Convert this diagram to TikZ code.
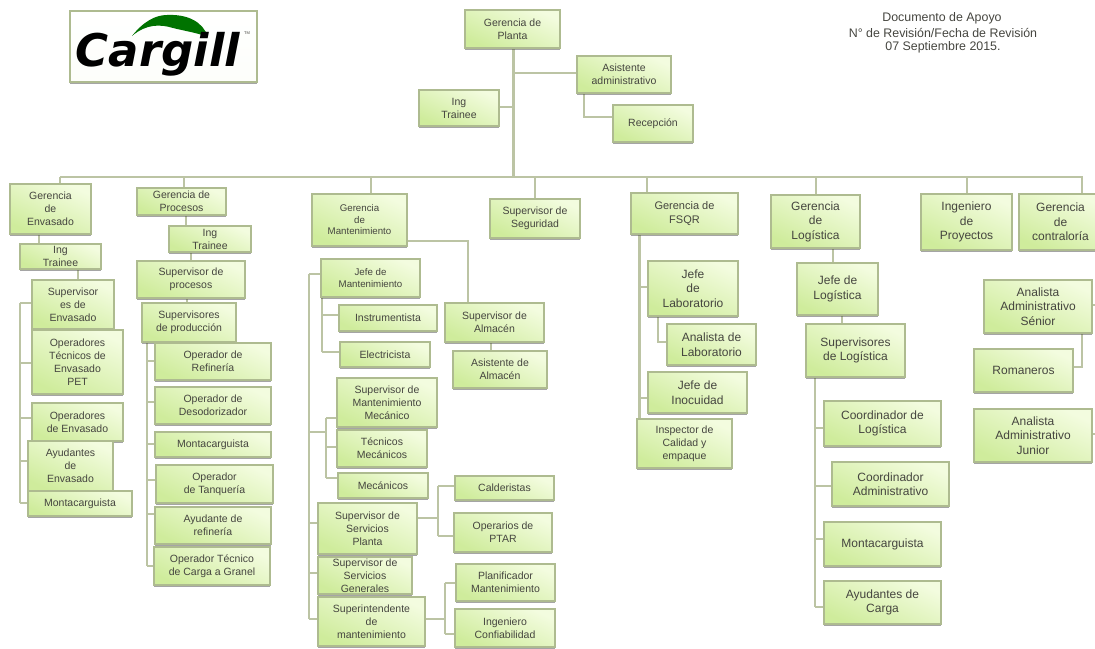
\documentclass[tikz,border=0pt]{standalone}
\usepackage{fontspec}
\setmainfont{Liberation Sans}
\newfontfamily\logofont{DejaVu Sans}
\usetikzlibrary{shadows,backgrounds}
\definecolor{boxedge}{HTML}{AEBB90}
\definecolor{boxlight}{HTML}{F3FCDF}
\definecolor{boxgreen}{HTML}{CFEC9C}
\definecolor{conn}{HTML}{BCC4A4}
\definecolor{txt}{HTML}{45453F}
\tikzset{
  box/.style={draw=boxedge,line width=1.6pt,top color=boxlight,bottom color=boxgreen,shading angle=-25,
    inner sep=0pt,outer sep=0pt,align=center,text=txt,font=\fontsize{10.5}{13}\selectfont,
    general shadow={shadow xshift=0.4pt,shadow yshift=-1.8pt,draw=none,fill=black!70,opacity=.5}},
  small/.style={font=\fontsize{9.7}{11.5}\selectfont},
  big/.style={font=\fontsize{12}{14.5}\selectfont},
  link/.style={draw=conn,line width=2.6pt},
  note/.style={text=txt,font=\fontsize{12.4}{14}\selectfont,inner sep=0pt}
}
% box: [style]{name}{x1}{y1}{x2}{y2}{text}
\newcommand\bb[7][]{\node[box,#1,minimum width={(#5-#3)*1pt},minimum height={(#6-#4)*1pt}] (#2) at ({(#3+#5)/2},{(#4+#6)/2}) {#7};}
% stem between two boxes at a given x
\newcommand\st[3]{\draw[link] (#1.south -| #3,0) -- (#2.north -| #3,0);}
% branch from a rail to a box at a given y
\newcommand\br[3]{\draw[link] (#1 |- 0,#3) -- (#2.west |- 0,#3);}
\begin{document}
\begin{tikzpicture}[x=1pt,y=-1pt]
\useasboundingbox (0,0) rectangle (1095,648);

% logo
\bb[top color=white,bottom color=white!95!boxgreen]{logo}{70}{11}{257}{82}{}
\fill[green!45!black] (132,36) .. controls (143,22) and (155,15) .. (167,15)
  .. controls (188,14) and (203,22) .. (208,37) .. controls (198,33) and (185,31) .. (173,28)
  .. controls (160,24) and (146,24) .. (132,36) -- cycle;
\node[inner sep=0pt,text=black] (cargill) at (158,54) {\fontsize{45}{45}\selectfont\logofont\bfseries\itshape Cargill};
\node[inner sep=0pt,text=txt] (tm) at (247,33) {\fontsize{4}{4}\selectfont TM};

% header note
\node[note] (n1) at (942,18) {Documento de Apoyo};
\node[note] (n2) at (943,32.5) {N° de Revisión/Fecha de Revisión};
\node[note] (n3) at (943,47) {07 Septiembre 2015.};

% top
\bb{gp}{465}{10}{560}{48}{Gerencia de\\Planta}
\bb{asis}{577}{56}{671}{93}{Asistente\\administrativo}
\bb{rec}{613}{105}{693}{142}{Recepción}
\bb{ingt}{419}{90}{499}{126}{Ing\\Trainee}

% envasado
\bb{genv}{10}{184}{91}{234}{Gerencia\\de\\Envasado}
\bb{ite}{20}{244}{101}{269}{Ing\\Trainee}
\bb{senv}{32}{280}{114}{329}{Supervisor\\es de\\Envasado}
\bb{otec}{32}{330}{123}{394}{Operadores\\Técnicos de\\Envasado\\PET}
\bb{oenv}{32}{403}{123}{441}{Operadores\\de Envasado}
\bb{aenv}{28}{441}{113}{491}{Ayudantes\\de\\Envasado}
\bb{menv}{28}{491}{132}{516}{Montacarguista}

% procesos
\bb{gpro}{137}{188}{226}{215}{Gerencia de\\Procesos}
\bb{itp}{169}{226}{251}{252}{Ing\\Trainee}
\bb{spro}{137}{261}{245}{298}{Supervisor de\\procesos}
\bb{sprod}{142}{303}{236}{342}{Supervisores\\de producción}
\bb{oref}{155}{343}{271}{380}{Operador de\\Refinería}
\bb{odes}{155}{387}{271}{424}{Operador de\\Desodorizador}
\bb{mpro}{155}{432}{271}{457}{Montacarguista}
\bb{otan}{156}{465}{273}{503}{Operador\\de Tanquería}
\bb{aref}{155}{507}{271}{544}{Ayudante de\\refinería}
\bb{ogra}{154}{547}{270}{585}{Operador Técnico\\de Carga a Granel}

% mantenimiento
\bb[small]{gman}{312}{194}{407}{246}{Gerencia\\de\\Mantenimiento}
\bb{sseg}{490}{199}{580}{238}{Supervisor de\\Seguridad}
\bb[small]{jman}{321}{259}{420}{297}{Jefe de\\Mantenimiento}
\bb{inst}{339}{305}{437}{331}{Instrumentista}
\bb{elec}{340}{342}{430}{367}{Electricista}
\bb{salm}{445}{303}{544}{342}{Supervisor de\\Almacén}
\bb{aalm}{453}{351}{547}{388}{Asistente de\\Almacén}
\bb{smec}{337}{378}{437}{427}{Supervisor de\\Mantenimiento\\Mecánico}
\bb{tmec}{337}{430}{427}{467}{Técnicos\\Mecánicos}
\bb{mmec}{338}{473}{428}{498}{Mecánicos}
\bb{spla}{318}{503}{417}{554}{Supervisor de\\Servicios\\Planta}
\bb{sgen}{318}{557}{412}{594}{Supervisor de\\Servicios\\Generales}
\bb{sint}{318}{597}{425}{646}{Superintendente\\de\\mantenimiento}
\bb{cald}{455}{476}{554}{500}{Calderistas}
\bb{ptar}{454}{513}{552}{552}{Operarios de\\PTAR}
\bb{plan}{456}{564}{555}{601}{Planificador\\Mantenimiento}
\bb{conf}{455}{609}{555}{647}{Ingeniero\\Confiabilidad}

% fsqr
\bb[font=\fontsize{11}{14}\selectfont]{gfsq}{631}{193}{738}{234}{Gerencia de\\FSQR}
\bb[big]{jlab}{648}{261}{738}{316}{Jefe\\de\\Laboratorio}
\bb[big]{alab}{667}{324}{756}{365}{Analista de\\Laboratorio}
\bb[big]{jino}{648}{372}{747}{413}{Jefe de\\Inocuidad}
\bb{insp}{637}{419}{732}{468}{Inspector de\\Calidad y\\empaque}

% logistica
\bb[big]{glog}{771}{195}{860}{248}{Gerencia\\de\\Logística}
\bb[big]{jlog}{797}{263}{878}{315}{Jefe de\\Logística}
\bb[big]{slog}{806}{324}{905}{377}{Supervisores\\de Logística}
\bb[big]{clog}{824}{401}{941}{446}{Coordinador de\\Logística}
\bb[big]{cadm}{832}{462}{949}{506}{Coordinador\\Administrativo}
\bb[big]{mlog}{824}{522}{941}{566}{Montacarguista}
\bb[big]{alog}{824}{581}{941}{624}{Ayudantes de\\Carga}

% derecha
\bb[big]{ipro}{921}{194}{1012}{250}{Ingeniero\\de\\Proyectos}
\bb[big]{gcon}{1019}{194}{1102}{250}{Gerencia\\de\\contraloría}
\bb[big]{asen}{984}{280}{1092}{333}{Analista\\Administrativo\\Sénior}
\bb[big]{roma}{974}{349}{1073}{392}{Romaneros}
\bb[big]{ajun}{974}{409}{1092}{462}{Analista\\Administrativo\\Junior}

\begin{pgfonlayer}{background}
  \coordinate (bus) at (60,177);
  \coordinate (busend) at (1083,177);
  \coordinate (trunk) at (513,177);
  \coordinate (renv) at (20,303);
  \coordinate (renvb) at (20,503);
  \coordinate (rpro) at (147,342);
  \coordinate (rprob) at (147,566);
  \coordinate (rman) at (309,274);
  \coordinate (rmanb) at (309,619);
  \coordinate (rjef) at (322,297);
  \coordinate (rjefb) at (322,352);
  \coordinate (rmec) at (326,418);
  \coordinate (rmecb) at (326,478);
  \coordinate (rpla) at (438,486);
  \coordinate (rplab) at (438,536);
  \coordinate (rsin) at (445,583);
  \coordinate (rsinb) at (445,634);
  \coordinate (rfsq) at (639,234);
  \coordinate (rfsqb) at (639,419);
  \coordinate (rlog) at (815,377);
  \coordinate (rlogb) at (815,607);
  \coordinate (rlab) at (658,316);
  \coordinate (rrec) at (584,93);
  \coordinate (rrom) at (1082,333);
  \coordinate (ralm) at (468,303);

  % main structure
  \draw[link,line width=3pt] (gp.south -| trunk) -- (trunk);
  \draw[link] (bus) -- (busend);
  \draw[link] (trunk |- 0,73) -- (asis.west |- 0,73);
  \draw[link] (trunk |- 0,107) -- (ingt.east |- 0,107);
  \draw[link] (rrec) -- (rrec |- 0,117) -- (rec.west |- 0,117);
  % drops from the bus
  \foreach \b/\x in {genv/60,gpro/184,gman/371,sseg/535,gfsq/647,glog/816,ipro/967,gcon/1082}
    \draw[link] (\x,177) -- (\b.north -| \x,0);

  % envasado
  \st{genv}{ite}{39}
  \st{ite}{senv}{78}
  \draw[link] (renv) -- (renvb);
  \br{renv}{senv}{303}\br{renv}{otec}{363}\br{renv}{oenv}{418}\br{renv}{aenv}{461}\br{renv}{menv}{503}

  % procesos
  \st{gpro}{itp}{186}
  \st{itp}{spro}{191}
  \st{spro}{sprod}{187}
  \draw[link] (rpro) -- (rprob);
  \br{rpro}{oref}{361}\br{rpro}{odes}{402}\br{rpro}{mpro}{444}\br{rpro}{otan}{480}\br{rpro}{aref}{514}\br{rpro}{ogra}{566}

  % mantenimiento
  \draw[link] (gman.east |- 0,241) -- (ralm |- 0,241) -- (ralm);
  \st{salm}{aalm}{491}
  \draw[link] (rman) -- (rmanb);
  \draw[link] (rman) -- (jman.west |- rman);
  \draw[link] (rjef) -- (rjefb);
  \br{rjef}{inst}{315}\br{rjef}{elec}{352}
  \draw[link] (rman |- 0,432) -- (rmec |- 0,432);
  \draw[link] (rmec) -- (rmecb);
  \br{rmec}{smec}{418}\br{rmec}{tmec}{447}\br{rmec}{mmec}{478}
  \br{rman}{spla}{523}\br{rman}{sgen}{573}\br{rman}{sint}{619}
  \draw[link] (spla.east |- 0,518) -- (rpla |- 0,518);
  \draw[link] (rpla) -- (rplab);
  \br{rpla}{cald}{486}\br{rpla}{ptar}{536}
  \draw[link] (sint.east |- 0,619) -- (rsin |- 0,619);
  \draw[link] (rsin) -- (rsinb);
  \br{rsin}{plan}{583}\br{rsin}{conf}{634}

  % fsqr
  \draw[link,line width=3pt] (rfsq) -- (rfsqb);
  \br{rfsq}{jlab}{287}\br{rfsq}{jino}{398}
  \draw[link] (rlab) -- (rlab |- 0,342) -- (alab.west |- 0,342);

  % logistica
  \st{glog}{jlog}{833}
  \st{jlog}{slog}{842}
  \draw[link] (rlog) -- (rlogb);
  \br{rlog}{clog}{428}\br{rlog}{cadm}{486}\br{rlog}{mlog}{539}\br{rlog}{alog}{607}

  % derecha
  \draw[link] (rrom) -- (rrom |- 0,367) -- (roma.east |- 0,367);
  \draw[link] (asen.east |- 0,305) -- (1095,305);
  \draw[link] (ajun.east |- 0,434) -- (1095,434);
\end{pgfonlayer}
\end{tikzpicture}
\end{document}
